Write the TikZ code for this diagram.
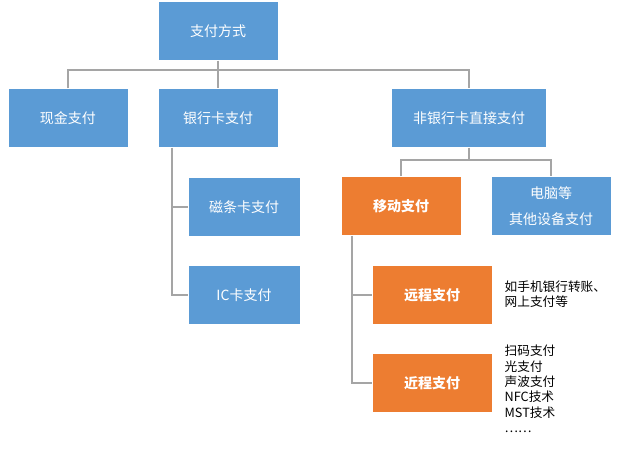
\documentclass[tikz,border=0pt]{standalone}
\usepackage{fontspec}
\setmainfont{Noto Sans CJK SC}
\newfontfamily\cjkbold[BoldFont={Noto Sans CJK SC Bold}]{Noto Sans CJK SC}
\definecolor{boxblue}{HTML}{5B9BD5}
\definecolor{boxorange}{HTML}{ED7D31}
\definecolor{lineg}{HTML}{A5A5A5}
\tikzset{
  bluebox/.style={fill=boxblue, draw=white, text=white, minimum width=90pt, minimum height=44pt, font=\fontsize{10.5}{13}\selectfont, align=center},
  orangebox/.style={fill=boxorange, draw=white, text=white, minimum width=90pt, minimum height=44pt, font=\fontsize{10.5}{13}\selectfont\bfseries, align=center},
  conn/.style={draw=lineg, line width=1pt},
  note/.style={anchor=west, font=\fontsize{9.5}{11.5}\selectfont, align=left}
}
\begin{document}
\begin{tikzpicture}[x=0.75pt, y=-0.75pt]
  \useasboundingbox (0,0) rectangle (640,453);
  % boxes
  \node[bluebox] (pay) at (218,31) {支付方式};
  \node[bluebox] (cash) at (68,118) {现金支付};
  \node[bluebox] (bank) at (218,118) {银行卡支付};
  \node[bluebox, minimum width=116pt] (nonbank) at (469,118) {非银行卡直接支付};
  \node[bluebox, minimum width=84pt] (mag) at (244,207) {磁条卡支付};
  \node[bluebox, minimum width=84pt] (ic) at (244,295) {IC卡支付};
  \node[orangebox] (mobile) at (401,206) {移动支付};
  \node[bluebox, font=\fontsize{10.5}{20}\selectfont] (pc) at (551,206) {电脑等\\其他设备支付};
  \node[orangebox] (remote) at (432,295) {远程支付};
  \node[orangebox] (near) at (432,383) {近程支付};
  % connectors
  \coordinate (top) at (218,70);
  \draw[conn] (pay) -- (top);
  \draw[conn] (cash.north) |- (top) -| (nonbank.north);
  \draw[conn] (top) -- (bank.north);
  \draw[conn] (bank.south -| 172,0) |- (ic.west);
  \draw[conn] (172,207) -- (mag.west);
  \coordinate (mid) at (469,160);
  \draw[conn] (nonbank) -- (mid);
  \draw[conn] (mobile.north) |- (mid) -| (pc.north);
  \draw[conn] (mobile.south -| 352,0) |- (near.west);
  \draw[conn] (352,295) -- (remote.west);
  % notes
  \node[note] (rnote) at (500,294) {如手机银行转账、\\网上支付等};
  \node[note] (nnote) at (500,389) {扫码支付\\光支付\\声波支付\\NFC技术\\MST技术\\……};
\end{tikzpicture}
\end{document}
